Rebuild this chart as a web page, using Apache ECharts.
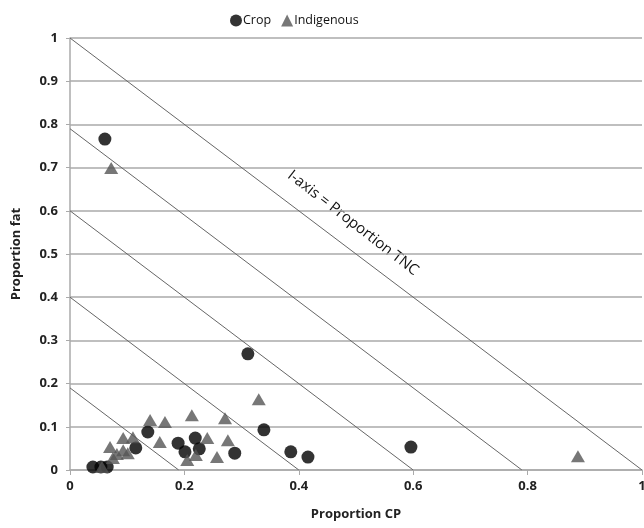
<!DOCTYPE html>
<html>
<head>
<meta charset="utf-8">
<script src="https://cdn.jsdelivr.net/npm/echarts@6/dist/echarts.min.js"></script>
<style>
  html, body { margin: 0; padding: 0; background: #fff; }
  #chart { width: 644px; height: 528px; }
</style>
</head>
<body>
<div id="chart"></div>
<script>
// proportion CP (x) / proportion fat (y)
const cropPoints = [
  [0.061, 0.766], [0.311, 0.269], [0.339, 0.093], [0.386, 0.042],
  [0.416, 0.030], [0.596, 0.053], [0.040, 0.007], [0.054, 0.007],
  [0.065, 0.007], [0.115, 0.051], [0.136, 0.088], [0.189, 0.062],
  [0.219, 0.074], [0.201, 0.042], [0.226, 0.049], [0.288, 0.039]
]
const indigenousPoints = [
  [0.072, 0.699], [0.330, 0.164], [0.888, 0.032], [0.056, 0.007],
  [0.070, 0.053], [0.075, 0.028], [0.082, 0.037], [0.093, 0.046],
  [0.101, 0.039], [0.093, 0.074], [0.110, 0.076], [0.140, 0.116],
  [0.166, 0.111], [0.157, 0.065], [0.213, 0.127], [0.271, 0.120],
  [0.240, 0.074], [0.276, 0.069], [0.205, 0.023], [0.220, 0.035],
  [0.257, 0.030]
]
// TNC isolines: x + y = c
const tncLevels = [1, 0.79, 0.6, 0.4, 0.19]
const xTicks = ['0', '0.2', '0.4', '0.6', '0.8', '1']

const chart = echarts.init(document.getElementById('chart'))

const isoSeries = tncLevels.map(c => ({
  type: 'line',
  data: [[0, c], [c, 0]],
  symbol: 'none',
  silent: true,
  z: 1,
  lineStyle: { color: '#666', width: 1 }
}))

const axisFont = { fontFamily: 'Open Sans', fontWeight: 'bold', fontSize: 13, color: '#222' }

chart.setOption({
  backgroundColor: '#fff',
  animation: false,
  legend: {
    left: 225,
    top: 9,
    itemGap: 10,
    itemWidth: 12,
    itemHeight: 12,
    data: ['Crop', 'Indigenous'],
    textStyle: { fontFamily: 'Open Sans', fontSize: 12.5, color: '#111', padding: [0, 0, 0, -4] }
  },
  grid: { left: 70, right: 2, top: 38, bottom: 58, outerBoundsMode: 'none' },
  xAxis: {
    type: 'value',
    min: 0, max: 1, interval: 0.2,
    name: 'Proportion CP',
    nameLocation: 'middle',
    nameGap: 38,
    nameTextStyle: axisFont,
    axisLine: { show: true, lineStyle: { color: '#aaa', width: 1.5 } },
    axisTick: { show: true, length: 5, lineStyle: { color: '#aaa' } },
    axisLabel: Object.assign({ margin: 10, formatter: v => xTicks[Math.round(v * 5)] }, axisFont),
    splitLine: { show: false }
  },
  yAxis: {
    type: 'value',
    min: 0, max: 1, interval: 0.1,
    name: 'Proportion fat',
    nameLocation: 'middle',
    nameGap: 47,
    nameTextStyle: axisFont,
    axisLine: { show: true, lineStyle: { color: '#aaa', width: 1.5 } },
    axisTick: { show: true, length: 4, lineStyle: { color: '#aaa' } },
    axisLabel: Object.assign({ margin: 12, formatter: v => String(+v.toFixed(1)) }, axisFont),
    splitLine: { show: true, lineStyle: { color: '#aaa', width: 1.5 } }
  },
  graphic: [{
    type: 'text',
    x: 353, y: 223,
    rotation: -0.66,
    style: {
      text: 'I-axis = Proportion TNC',
      fontFamily: 'Open Sans',
      fontSize: 15,
      fill: '#111',
      textAlign: 'center',
      textVerticalAlign: 'middle'
    }
  }],
  series: isoSeries.concat([
    {
      name: 'Crop',
      type: 'scatter',
      symbol: 'circle',
      symbolSize: 13,
      z: 3,
      itemStyle: { color: '#000' },
      data: cropPoints
    },
    {
      name: 'Indigenous',
      type: 'scatter',
      symbol: 'triangle',
      symbolSize: [14, 12],
      z: 4,
      itemStyle: { color: '#555' },
      data: indigenousPoints
    }
  ])
})
</script>
</body>
</html>
